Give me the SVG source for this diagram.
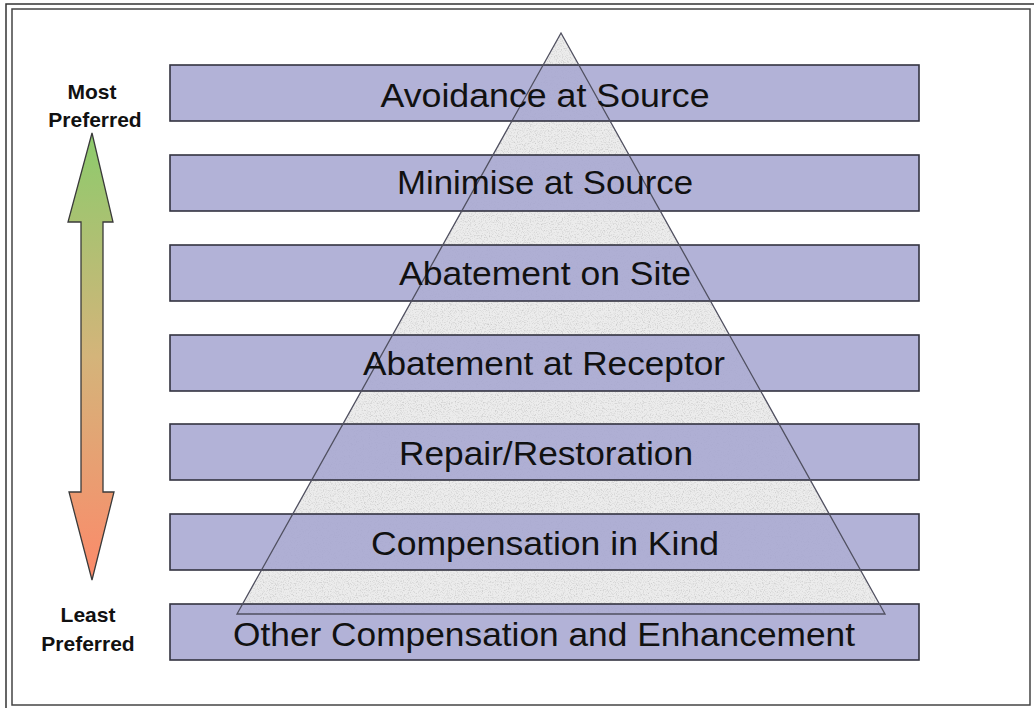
<svg xmlns="http://www.w3.org/2000/svg" width="1034" height="708" viewBox="0 0 1034 708">
<style>
.bar{fill:#a4a4d0;fill-opacity:0.85;stroke:#333340;stroke-width:1.6}
.lbl{font-family:"Liberation Sans",Arial,sans-serif;font-size:34px;fill:#111;text-anchor:middle}
.side{font-family:"Liberation Sans",Arial,sans-serif;font-size:21px;font-weight:bold;fill:#111;text-anchor:middle}
</style>
<defs>
<linearGradient id="arrowGrad" gradientUnits="userSpaceOnUse" x1="0" y1="133" x2="0" y2="580">
<stop offset="0" stop-color="#8ccb6c"/>
<stop offset="0.5" stop-color="#d4b47a"/>
<stop offset="1" stop-color="#fc8a6a"/>
</linearGradient>
<filter id="speck" x="0" y="0" width="100%" height="100%">
<feTurbulence type="fractalNoise" baseFrequency="0.85" numOctaves="2" seed="7" result="n"/>
<feColorMatrix in="n" type="matrix" values="0 0 0 0 0.55 0 0 0 0 0.55 0 0 0 0 0.55 2.2 0 0 0 -1.05" result="s"/>
<feComposite in="s" in2="SourceGraphic" operator="in"/>
</filter>
</defs>
<rect x="0" y="0" width="1034" height="708" fill="#fff"/>
<rect x="6" y="4" width="1040" height="712" fill="none" stroke="#333" stroke-width="1.5"/>
<rect x="12" y="9" width="1018" height="696" fill="none" stroke="#444" stroke-width="1.5"/>

<g id="pyramid">
<polygon points="561,33 237,614 885,614" fill="#ececec"/>
<polygon points="561,33 237,614 885,614" fill="#ececec" filter="url(#speck)"/>
</g>

<g id="bars">
<g id="n1"><rect class="bar" x="170" y="65" width="749" height="56"/></g>
<g id="n2"><rect class="bar" x="170" y="155" width="749" height="56"/></g>
<g id="n3"><rect class="bar" x="170" y="245" width="749" height="56"/></g>
<g id="n4"><rect class="bar" x="170" y="335" width="749" height="56"/></g>
<g id="n5"><rect class="bar" x="170" y="424" width="749" height="56"/></g>
<g id="n6"><rect class="bar" x="170" y="514" width="749" height="56"/></g>
<g id="n7"><rect class="bar" x="170" y="604" width="749" height="56"/></g>
</g>

<polygon points="561,33 237,614 885,614" fill="none" stroke="#505060" stroke-width="1.3"/>

<g id="labels">
<text class="lbl" x="545" y="107" textLength="329" lengthAdjust="spacingAndGlyphs">Avoidance at Source</text>
<text class="lbl" x="545" y="194" textLength="296" lengthAdjust="spacingAndGlyphs">Minimise at Source</text>
<text class="lbl" x="545" y="285" textLength="292" lengthAdjust="spacingAndGlyphs">Abatement on Site</text>
<text class="lbl" x="544" y="375" textLength="362" lengthAdjust="spacingAndGlyphs">Abatement at Receptor</text>
<text class="lbl" x="546" y="465" textLength="294" lengthAdjust="spacingAndGlyphs">Repair/Restoration</text>
<text class="lbl" x="545" y="555" textLength="348" lengthAdjust="spacingAndGlyphs">Compensation in Kind</text>
<text class="lbl" x="544" y="646" textLength="622" lengthAdjust="spacingAndGlyphs">Other Compensation and Enhancement</text>
</g>

<g id="preference-arrow">
<path d="M92,133 L113,222 L103,222 L103,492 L114,492 L92,580 L69,492 L81,492 L81,222 L68,222 Z" fill="url(#arrowGrad)" stroke="#3a3a3a" stroke-width="1.3" stroke-linejoin="miter"/>
</g>
<g id="most">
<text class="side" x="92" y="99">Most</text>
<text class="side" x="95" y="127">Preferred</text>
</g>
<g id="least">
<text class="side" x="88" y="622">Least</text>
<text class="side" x="88" y="651">Preferred</text>
</g>
</svg>
